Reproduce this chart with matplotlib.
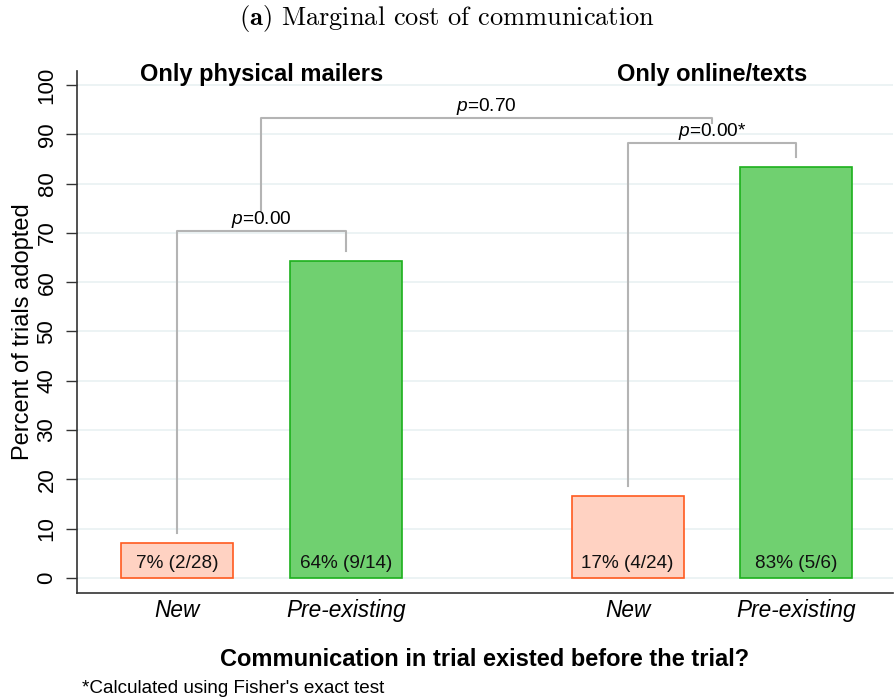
import matplotlib
matplotlib.use("Agg")
import matplotlib.pyplot as plt

plt.rcParams['font.family'] = ['Liberation Sans', 'DejaVu Sans']
plt.rcParams['mathtext.fontset'] = 'custom'
plt.rcParams['mathtext.it'] = 'Liberation Sans:italic'
plt.rcParams['mathtext.rm'] = 'Liberation Sans'

# data
groups = ["Only physical mailers", "Only online/texts"]
tick_labels = ["New", "Pre-existing", "New", "Pre-existing"]
positions = [1.0, 2.0, 3.67, 4.67]
pct = [7.14, 64.29, 16.67, 83.33]
bar_text = ["7% (2/28)", "64% (9/14)", "17% (4/24)", "83% (5/6)"]
kinds = ["new", "pre", "new", "pre"]

# brackets: (left x, right x, height, left bottom, right bottom, label)
brackets = [
    (1.0, 2.0, 70.3, 9.1, 66.3, "0.00"),
    (3.67, 4.67, 88.3, 18.6, 85.4, "0.00*"),
    (1.5, 4.17, 93.3, 74.6, 92.3, "0.70"),
]

fill = {"new": "#ffd2c2", "pre": "#70d070"}
edge = {"new": "#ff5a1f", "pre": "#1db01d"}

fig = plt.figure(figsize=(8.94, 7.0), dpi=100)
ax = fig.add_axes([0.0861, 0.1529, 0.9129, 0.7457])

ax.set_xlim(0.408, 5.243)
ax.set_ylim(-3.04, 102.84)

for y in range(0, 101, 10):
    ax.axhline(y, color="#eaf2f3", lw=1.3, zorder=0)

for x, v, k, t in zip(positions, pct, kinds, bar_text):
    ax.bar(x, v, width=0.663, color=fill[k], edgecolor=edge[k], linewidth=1.2, zorder=2)
    ax.text(x, 3.0, t, ha="center", va="center", fontsize=13.6, color="#111111", zorder=3)

for x0, x1, h, b0, b1, lab in brackets:
    ax.plot([x0, x0, x1, x1], [b0, h, h, b1], color="#b4b4b4", lw=1.5, zorder=1)
    ax.text((x0 + x1) / 2, h + 0.2, r"$\it{p}$=" + lab, ha="center", va="bottom",
            fontsize=13.8, zorder=3)

ax.text(1.5, 102.2, groups[0], ha="center", va="center", fontsize=17, fontweight="bold")
ax.text(4.17, 102.2, groups[1], ha="center", va="center", fontsize=17, fontweight="bold")

ax.set_yticks(range(0, 101, 10))
ax.set_yticklabels([str(v) for v in range(0, 101, 10)], rotation=90, va="center", fontsize=16)
ax.tick_params(axis="y", length=8, width=1, pad=6, color="#333333")
ax.set_xticks(positions)
ax.set_xticklabels(tick_labels, fontsize=16.3, style="italic")
ax.tick_params(axis="x", length=0, pad=4)

ax.spines["top"].set_visible(False)
ax.spines["right"].set_visible(False)
ax.spines["left"].set_color("#333333")
ax.spines["bottom"].set_color("#333333")
ax.spines["left"].set_linewidth(1.2)
ax.spines["bottom"].set_linewidth(1.2)

ax.set_ylabel("Percent of trials adopted", fontsize=17, labelpad=2)
ax.set_xlabel("Communication in trial existed before the trial?", fontsize=17,
              fontweight="bold", labelpad=19)

fig.text(0.5, 0.974, r"$\mathbf{(a)}$ Marginal cost of communication", ha="center",
         va="center", fontsize=19, family="cmr10", math_fontfamily="cm")
fig.text(0.092, 0.017, "*Calculated using Fisher's exact test", ha="left", va="center",
         fontsize=13.6)

fig.savefig("out.png", dpi=100)
